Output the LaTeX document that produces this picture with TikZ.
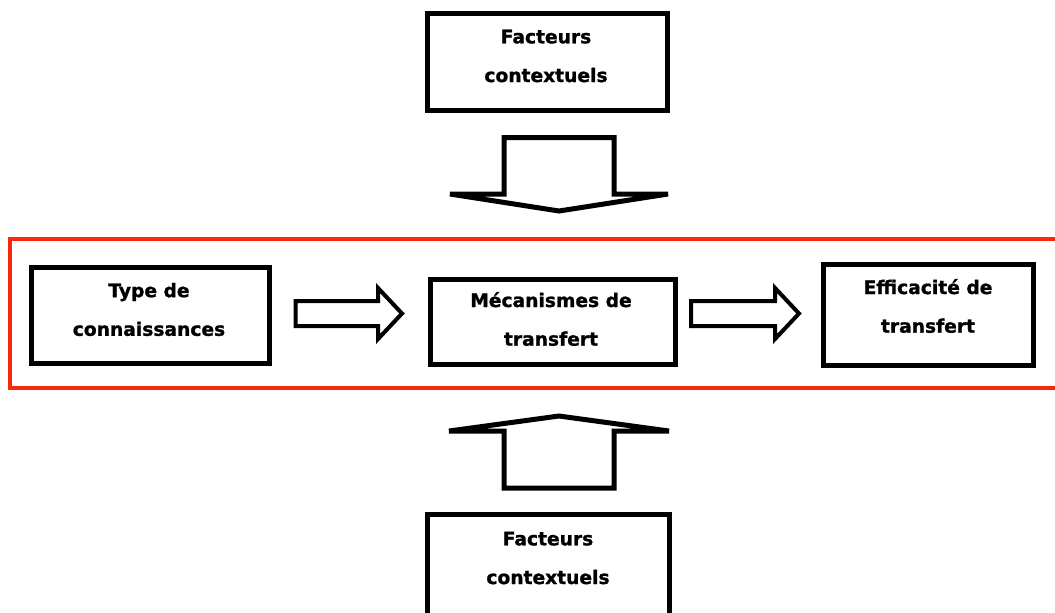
\documentclass[tikz,border=0pt]{standalone}
\usepackage{fontspec}
\setmainfont{DejaVu Sans}[BoldFeatures={FakeBold=1.2}]
\definecolor{framered}{RGB}{250,40,10}
\begin{document}
\begin{tikzpicture}[x=0.75pt,y=-0.75pt,
  box/.style={draw=black,line width=3.75pt,fill=white,inner sep=0pt,outer sep=0pt},
  lbl/.style={font=\bfseries\fontsize{14}{29}\selectfont,align=center,inner sep=0pt},
  blockarrow/.style={draw=black,fill=white,line join=miter},
  frame/.style={draw=framered,line width=3pt}]

\useasboundingbox (0,0) rectangle (1055,612);
\clip (0,0) rectangle (1055,612);

% red frame around the central chain
\draw[frame] (9.5,239) rectangle (1064,388);

% boxes
\node[box,minimum width=180pt,minimum height=72.4pt] (top) at (547,61.75) {};
\node[box,minimum width=181.5pt,minimum height=94.5pt] (bottom) at (548.5,577) {};
\node[box,minimum width=178.5pt,minimum height=72pt] (type) at (150.5,315.5) {};
\node[box,minimum width=183.75pt,minimum height=64.1pt] (meca) at (552.5,321.75) {};
\node[box,minimum width=157.5pt,minimum height=75.75pt] (eff) at (928,314.5) {};

% labels
\node[lbl] (toptext) at (546,56) {Facteurs\\contextuels};
\node[lbl] (bottomtext) at (548,558) {Facteurs\\contextuels};
\node[lbl] (typetext) at (149,309.5) {Type de\\connaissances};
\node[lbl] (mecatext) at (551,319) {Mécanismes de\\transfert};
\node[lbl] (efftext) at (928,306) {Efficacité de\\transfert};

% block arrows
\draw[blockarrow,line width=3.75pt] (504,137.5) -- (614,137.5) -- (614,194) -- (668,194)
  -- (559,211) -- (450,194) -- (504,194) -- cycle;
\draw[blockarrow,line width=3.75pt] (504,488) -- (614,488) -- (614,431) -- (669,431)
  -- (559,416) -- (449,431) -- (504,431) -- cycle;
\draw[blockarrow,line width=3pt] (295.5,301) -- (378,301) -- (378,288) -- (402,313.5)
  -- (378,339) -- (378,326) -- (295.5,326) -- cycle;
\draw[blockarrow,line width=3pt] (691,301) -- (775,301) -- (775,288) -- (799,313.5)
  -- (775,339) -- (775,326) -- (691,326) -- cycle;
\end{tikzpicture}
\end{document}
